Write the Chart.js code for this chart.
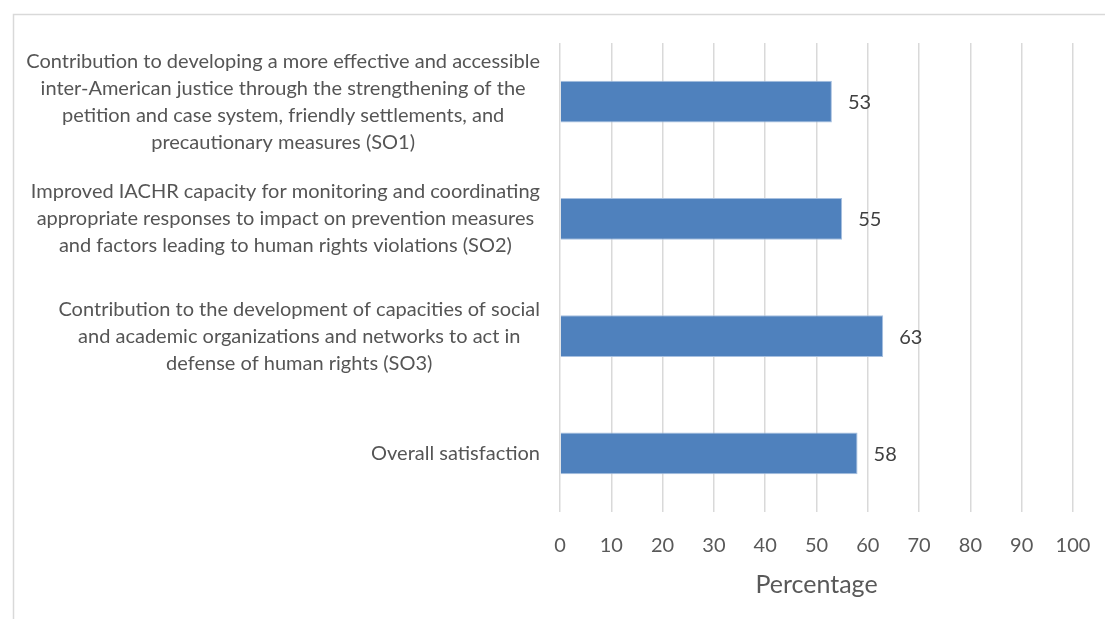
<!DOCTYPE html>
<html>
<head>
<meta charset="utf-8">
<script src="https://cdn.jsdelivr.net/npm/chart.js@4/dist/chart.umd.min.js"></script>
<style>
  html, body { margin: 0; padding: 0; background: #fff; }
  #wrap { position: relative; width: 1105px; height: 619px; }
</style>
</head>
<body>
<div id="wrap"><canvas id="chart" width="1105" height="619"></canvas></div>
<script>
'use strict';

// objectives, one array of lines per bar
const objectives = [
  ['Contribution to developing a more effective and accessible',
   'inter-American justice through the strengthening of the',
   'petition and case system, friendly settlements, and',
   'precautionary measures (SO1)'],
  ['Improved IACHR capacity for monitoring and coordinating',
   'appropriate responses to impact on prevention measures',
   'and factors leading to human rights violations (SO2)'],
  ['Contribution to the development of capacities of social',
   'and academic organizations and networks to act in',
   'defense of human rights (SO3)'],
  ['Overall satisfaction']
]
const satisfaction = [53, 55, 63, 58]
const axisMin = 0
const axisMax = 100
const axisStep = 10
const axisTitle = 'Percentage'

const FONT = 'Lato, "Open Sans", sans-serif'

// grey frame along the top and left edges
const framePlugin = {
  id: 'frame',
  beforeDraw(chart) {
    const ctx = chart.ctx
    ctx.save()
    ctx.strokeStyle = '#d9d9d9'
    ctx.lineWidth = 1.5
    ctx.beginPath()
    ctx.moveTo(13.5, chart.height)
    ctx.lineTo(13.5, 14.5)
    ctx.lineTo(chart.width, 14.5)
    ctx.stroke()
    ctx.restore()
  }
}

// category text: each block centred on itself, right edge next to the plot
const categoryLabels = {
  id: 'categoryLabels',
  afterDraw(chart) {
    const ctx = chart.ctx
    const yScale = chart.scales.y
    const rightEdge = chart.chartArea.left - 20
    const lineH = 27
    ctx.save()
    ctx.font = '20px ' + FONT
    ctx.fillStyle = '#555555'
    ctx.textAlign = 'center'
    ctx.textBaseline = 'middle'
    objectives.forEach((lines, i) => {
      const y = yScale.getPixelForValue(i)
      const widest = Math.max(...lines.map(l => ctx.measureText(l).width))
      const cx = rightEdge - widest / 2
      lines.forEach((line, j) => {
        ctx.fillText(line, cx, y + (j - (lines.length - 1) / 2) * lineH)
      })
    })
    ctx.restore()
  }
}

// value printed just past the end of each bar
const valueLabels = {
  id: 'valueLabels',
  afterDatasetsDraw(chart) {
    const ctx = chart.ctx
    const meta = chart.getDatasetMeta(0)
    ctx.save()
    ctx.font = '20px ' + FONT
    ctx.fillStyle = '#404040'
    ctx.textAlign = 'left'
    ctx.textBaseline = 'middle'
    meta.data.forEach((bar, i) => {
      ctx.fillText(String(satisfaction[i]), bar.x + 16, bar.y + 1)
    })
    ctx.restore()
  }
}

function renderChart() {
  const data = {
    labels: objectives.map(l => l.join(' ')),
    datasets: [
      {
        label: axisTitle,
        data: satisfaction,
        backgroundColor: '#4f81bd',
        borderColor: '#a7c0e0',
        borderWidth: 1,
        barPercentage: 0.354,
        categoryPercentage: 1,
      },
    ]
  }

  const config = {
    type: 'bar',
    data: data,
    options: {
      indexAxis: 'y',
      responsive: false,
      animation: false,
      layout: { padding: { top: 43, right: 32, left: 0, bottom: 0 } },
      plugins: {
        legend: { display: false },
        tooltip: { enabled: false },
      },
      scales: {
        x: {
          min: axisMin,
          max: axisMax,
          ticks: {
            stepSize: axisStep,
            color: '#595959',
            font: { family: FONT, size: 20 },
            padding: 22,
          },
          grid: { color: '#d9d9d9', lineWidth: 1.5, drawTicks: false },
          border: { display: false },
          title: {
            display: true,
            text: axisTitle,
            color: '#595959',
            font: { family: FONT, size: 25 },
            padding: { top: 0, bottom: 19 },
          },
          afterFit(scale) {
            scale.height = 107
            scale.paddingLeft = 0
            scale.paddingRight = 0
          },
        },
        y: {
          ticks: { display: false },
          grid: { display: false },
          border: { display: false },
          afterFit(scale) { scale.width = 560 },
        },
      },
    },
    plugins: [framePlugin, categoryLabels, valueLabels],
  }

  const resultChart = new Chart(document.getElementById('chart'), config)
}

renderChart();
</script>
</body>
</html>
